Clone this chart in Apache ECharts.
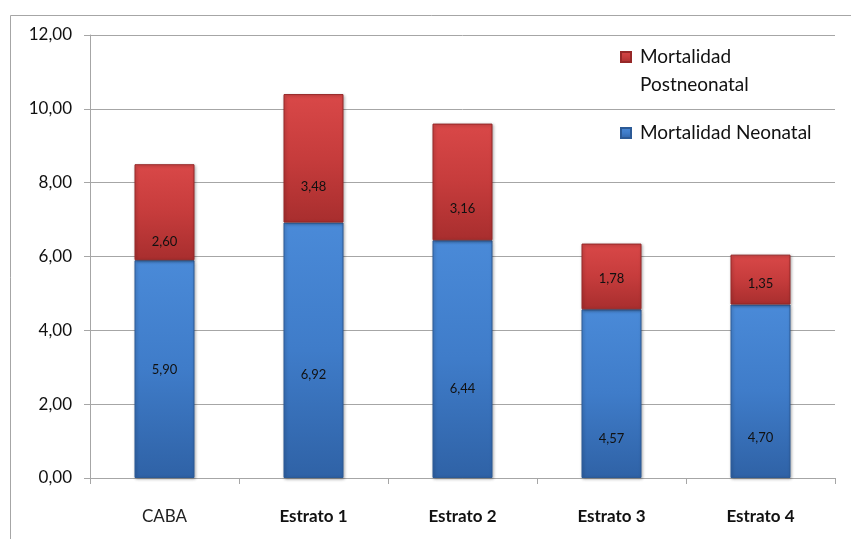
<!DOCTYPE html>
<html>
<head>
<meta charset="utf-8">
<script src="https://cdn.jsdelivr.net/npm/echarts@6/dist/echarts.min.js"></script>
<style>
  html, body { margin: 0; padding: 0; background: #ffffff; }
  #chart { width: 851px; height: 539px; }
</style>
</head>
<body>
<div id="chart"></div>
<script>
// Tasas de mortalidad infantil por estrato
const categories = ['CABA', 'Estrato 1', 'Estrato 2', 'Estrato 3', 'Estrato 4'];
const neonatal = [5.90, 6.92, 6.44, 4.57, 4.70];
const postneonatal = [2.60, 3.48, 3.16, 1.78, 1.35];
const yTicks = { min: 0, max: 12, interval: 2 };
const seriesNames = ['Mortalidad Neonatal', 'Mortalidad Postneonatal'];

const FONT = 'Lato, "Open Sans", sans-serif';
const fmt = v => v.toFixed(2).replace('.', ',');

// vertical offsets (px) nudging each value label inside its segment
const neoLabelShift = [1, 25, 30, 45, 47];
const postLabelShift = [30, 29, 27, 2, 4];

function grad(top, mid, bottom) {
  return new echarts.graphic.LinearGradient(0, 0, 0, 1, [
    { offset: 0, color: top },
    { offset: 0.5, color: mid },
    { offset: 1, color: bottom }
  ]);
}

const blueFill = grad('#4a8ad8', '#3f7cc9', '#2f62a6');
const redFill = grad('#d94848', '#c63c3c', '#a82e2e');

function buildData(values, shifts) {
  return values.map((v, i) => ({
    value: v,
    label: { offset: [0, shifts[i]] }
  }));
}

const chart = echarts.init(document.getElementById('chart'), null, { renderer: 'canvas' });

const labelStyle = {
  show: true,
  position: 'inside',
  color: '#111111',
  fontFamily: FONT,
  fontSize: 13,
  formatter: p => fmt(p.value)
};

const legendText = {
  fontFamily: FONT, fontSize: 19, color: '#111111', letterSpacing: 0.5
};

chart.setOption({
  animation: false,
  backgroundColor: '#ffffff',
  graphic: [{
    type: 'rect',
    left: 8, top: 13,
    shape: { width: 900, height: 600 },
    style: { fill: 'none', stroke: '#a6a6a6', lineWidth: 1 },
    silent: true
  }],
  grid: { left: 90, right: 16, top: 35, bottom: 61, containLabel: false },
  legend: [{
    data: [seriesNames[1]],
    orient: 'vertical',
    left: 620, top: 15,
    padding: 0,
    itemWidth: 10, itemHeight: 10,
    icon: 'rect',
    // leading blank line keeps the marker level with the first line
    formatter: () => '\nMortalidad\nPostneonatal',
    textStyle: Object.assign({ lineHeight: 28, padding: [0, 0, 0, 4] }, legendText)
  }, {
    data: [seriesNames[0]],
    orient: 'vertical',
    left: 620, top: 123,
    padding: 0,
    itemWidth: 10, itemHeight: 10,
    icon: 'rect',
    textStyle: Object.assign({ lineHeight: 20, padding: [0, 0, 0, 4] }, legendText)
  }],
  xAxis: {
    type: 'category',
    data: categories,
    axisLine: { lineStyle: { color: '#a6a6a6', width: 1 } },
    axisTick: { show: true, length: 6, lineStyle: { color: '#a6a6a6' } },
    axisLabel: {
      margin: 30,
      fontFamily: FONT,
      fontSize: 17,
      color: '#222222',
      formatter: v => v === 'CABA' ? v : '{b|' + v + '}',
      rich: { b: { fontFamily: FONT, fontSize: 17, fontWeight: 'bold', color: '#111111' } }
    }
  },
  yAxis: {
    type: 'value',
    min: yTicks.min, max: yTicks.max, interval: yTicks.interval,
    axisLine: { show: true, lineStyle: { color: '#a6a6a6', width: 1 } },
    axisTick: { show: true, length: 6, lineStyle: { color: '#a6a6a6' } },
    splitLine: { show: true, lineStyle: { color: '#a6a6a6', width: 1 } },
    axisLabel: {
      margin: 18,
      fontFamily: FONT,
      fontSize: 17,
      color: '#111111',
      formatter: v => fmt(v)
    }
  },
  series: [{
    name: seriesNames[0],
    type: 'bar',
    stack: 'total',
    barWidth: 60,
    data: buildData(neonatal, neoLabelShift),
    itemStyle: {
      color: blueFill,
      borderColor: '#2c5a96',
      borderWidth: 1,
      shadowColor: 'rgba(0,0,0,0.3)',
      shadowBlur: 3,
      shadowOffsetX: 1,
      shadowOffsetY: 1
    },
    label: labelStyle
  }, {
    name: seriesNames[1],
    type: 'bar',
    stack: 'total',
    barWidth: 60,
    data: buildData(postneonatal, postLabelShift),
    itemStyle: {
      color: redFill,
      borderColor: '#962828',
      borderWidth: 1,
      shadowColor: 'rgba(0,0,0,0.3)',
      shadowBlur: 3,
      shadowOffsetX: 1,
      shadowOffsetY: 1
    },
    label: labelStyle
  }]
});
</script>
</body>
</html>
